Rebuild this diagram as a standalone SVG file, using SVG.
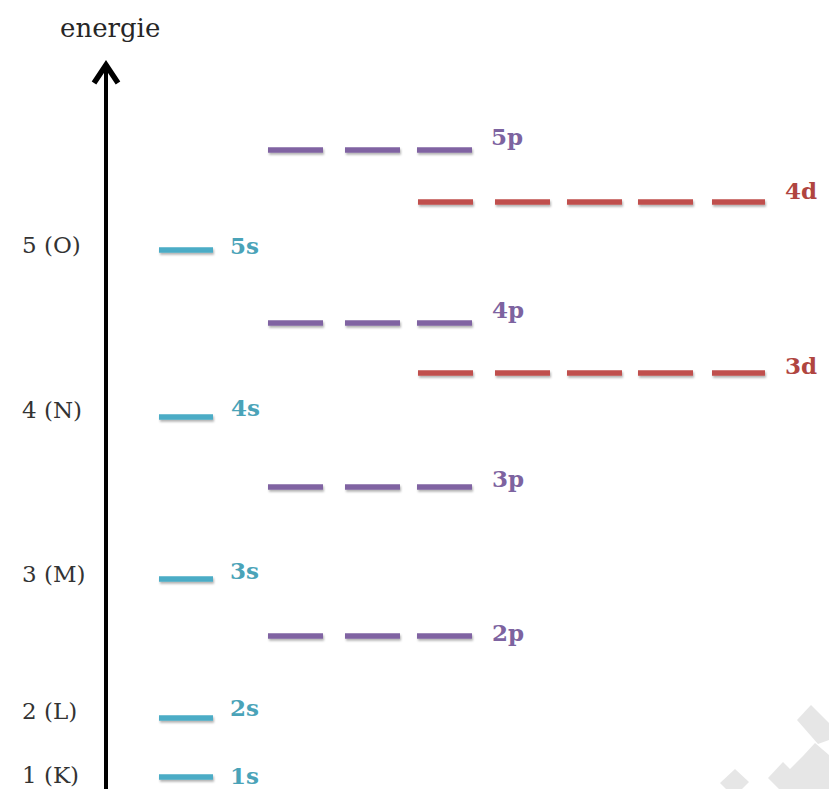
<svg xmlns="http://www.w3.org/2000/svg" width="829" height="789" viewBox="0 0 829 789">
<defs>
<filter id="sh" filterUnits="userSpaceOnUse" x="0" y="0" width="829" height="789">
<feDropShadow dx="1" dy="2" stdDeviation="1.2" flood-color="#000" flood-opacity="0.3"/>
</filter>
</defs>
<style>
.lvl{font-family:"DejaVu Serif","Liberation Serif",serif;font-size:23px;fill:#333}
.ttl{font-family:"DejaVu Serif","Liberation Serif",serif;font-size:26px;fill:#262626}
.ol{font-family:"DejaVu Serif","Liberation Serif",serif;font-size:23px;font-weight:bold}
.s line{stroke:#4bacc6;stroke-width:5.5;filter:url(#sh)}
.p line{stroke:#8064a2;stroke-width:5.5;filter:url(#sh)}
.d line{stroke:#c0504d;stroke-width:5.5;filter:url(#sh)}
.s text{fill:#4aa3b8}
.p text{fill:#7d63a0}
.d text{fill:#b04540}
.wm{fill:#e6e6e6}
</style>
<rect width="829" height="789" fill="#fff"/>
<g id="watermark">
<polygon class="wm" points="720,783 735,769 749,782 742,789 726,789"/>
<polygon class="wm" points="768,778 783,762 790,769 803,756 815,743 829,755 829,789 779,789"/>
<polygon class="wm" points="797,720 811,705 829,723 829,740 818,744"/>
</g>
<g id="connectors">
<line x1="106" y1="789" x2="106" y2="68" stroke="#000" stroke-width="4"/>
<polyline points="94,83 106,65 118,83" fill="none" stroke="#000" stroke-width="5.5" stroke-linejoin="miter"/>
</g>
<text class="ttl" x="60" y="37">energie</text>
<g id="shells">
<text class="lvl" x="22" y="253">5 (O)</text>
<text class="lvl" x="22" y="418">4 (N)</text>
<text class="lvl" x="22" y="582">3 (M)</text>
<text class="lvl" x="22" y="719">2 (L)</text>
<text class="lvl" x="22" y="783">1 (K)</text>
</g>
<g id="s5" class="s"><line x1="159" y1="250" x2="213" y2="250"/><text class="ol" x="230" y="254">5s</text></g>
<g id="s4" class="s"><line x1="159" y1="417" x2="213" y2="417"/><text class="ol" x="231" y="416">4s</text></g>
<g id="s3" class="s"><line x1="159" y1="579" x2="213" y2="579"/><text class="ol" x="230" y="579">3s</text></g>
<g id="s2" class="s"><line x1="159" y1="718" x2="213" y2="718"/><text class="ol" x="230" y="716">2s</text></g>
<g id="s1" class="s"><line x1="159" y1="777" x2="213" y2="777"/><text class="ol" x="230" y="784">1s</text></g>
<g id="p5" class="p"><line x1="268" y1="150" x2="323" y2="150"/><line x1="345" y1="150" x2="400" y2="150"/><line x1="417" y1="150" x2="472" y2="150"/><text class="ol" x="491" y="145">5p</text></g>
<g id="p4" class="p"><line x1="268" y1="323" x2="323" y2="323"/><line x1="345" y1="323" x2="400" y2="323"/><line x1="417" y1="323" x2="472" y2="323"/><text class="ol" x="492" y="318">4p</text></g>
<g id="p3" class="p"><line x1="268" y1="487" x2="323" y2="487"/><line x1="345" y1="487" x2="400" y2="487"/><line x1="417" y1="487" x2="472" y2="487"/><text class="ol" x="492" y="487">3p</text></g>
<g id="p2" class="p"><line x1="268" y1="636" x2="323" y2="636"/><line x1="345" y1="636" x2="400" y2="636"/><line x1="417" y1="636" x2="472" y2="636"/><text class="ol" x="492" y="641">2p</text></g>
<g id="d4" class="d"><line x1="418" y1="202" x2="473" y2="202"/><line x1="495" y1="202" x2="550" y2="202"/><line x1="567" y1="202" x2="622" y2="202"/><line x1="638" y1="202" x2="693" y2="202"/><line x1="712" y1="202" x2="765" y2="202"/><text class="ol" x="785" y="199">4d</text></g>
<g id="d3" class="d"><line x1="418" y1="373" x2="473" y2="373"/><line x1="495" y1="373" x2="550" y2="373"/><line x1="567" y1="373" x2="622" y2="373"/><line x1="638" y1="373" x2="693" y2="373"/><line x1="712" y1="373" x2="765" y2="373"/><text class="ol" x="785" y="374">3d</text></g>
</svg>
